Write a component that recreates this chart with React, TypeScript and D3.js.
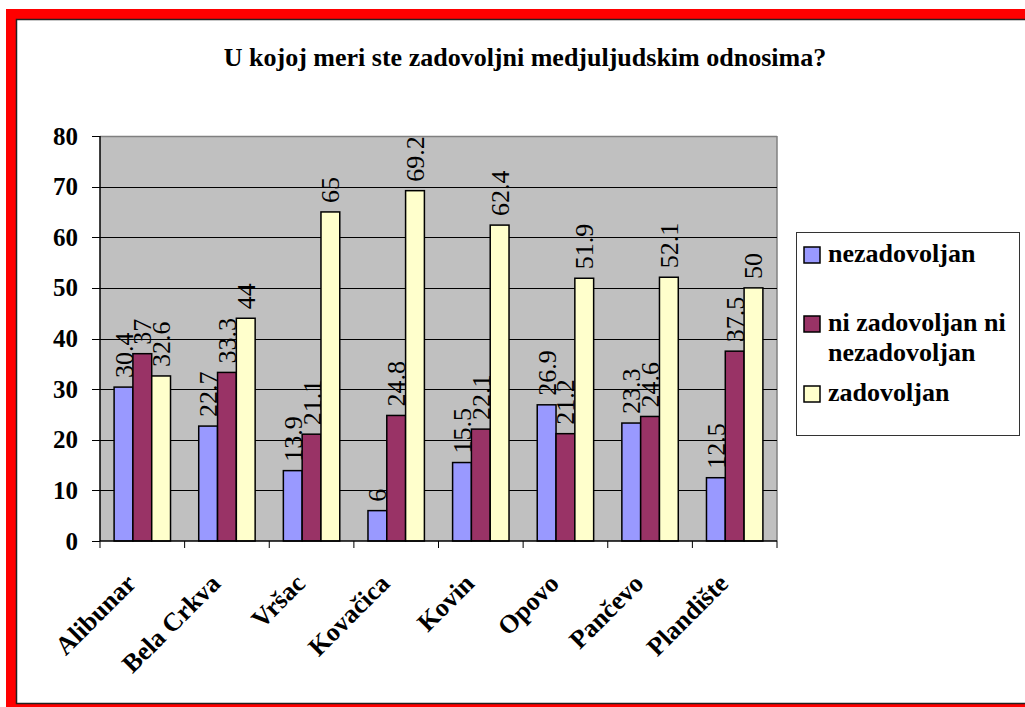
import React from "react";
import * as d3 from "d3";

const title = "U kojoj meri ste zadovoljni medjuljudskim odnosima?";
const categories = ["Alibunar", "Bela Crkva", "Vršac", "Kovačica", "Kovin", "Opovo", "Pančevo", "Plandište"];
const seriesNames = ["nezadovoljan", "ni zadovoljan ni nezadovoljan", "zadovoljan"];
const legendLines = [["nezadovoljan"], ["ni zadovoljan ni", "nezadovoljan"], ["zadovoljan"]];
const nezadovoljan = [30.4, 22.7, 13.9, 6, 15.5, 26.9, 23.3, 12.5];
const niNi = [37, 33.3, 21.1, 24.8, 22.1, 21.2, 24.6, 37.5];
const zadovoljan = [32.6, 44, 65, 69.2, 62.4, 51.9, 52.1, 50];
const seriesValues = [nezadovoljan, niNi, zadovoljan];
const seriesColors = ["#9999FF", "#993366", "#FFFFCC"];
const yTicks = [0, 10, 20, 30, 40, 50, 60, 70, 80];

const W = 1025;
const H = 707;
const plot = { left: 100, right: 777, top: 136, bottom: 541 };
const serif = "Liberation Serif, Times New Roman, serif";

export default function App() {
  const x = d3.scaleBand<string>().domain(categories).range([plot.left, plot.right]);
  const bw = x.bandwidth() / 4.5;
  const y = d3.scaleLinear().domain([0, 80]).range([plot.bottom, plot.top]);

  const legendY = [247, 316, 386];

  return (
    <svg width={W} height={H} style={{ position: "fixed", left: 0, top: 0, display: "block", background: "#fff" }} fontFamily={serif}>
      {/* frame */}
      <path d={`M6,9 H${W} V${H} H6 Z`} fill="#FF0000" />
      <path d={`M16.5,19.5 H${W + 5} V703.5 H16.5 Z`} fill="#ffffff" stroke="#222222" strokeWidth={1.5} />

      {/* title */}
      <text x={525} y={66} textAnchor="middle" fontWeight="bold" fontSize={26} fontFamily={serif}>
        {title}
      </text>

      {/* plot area */}
      <rect x={plot.left} y={plot.top} width={plot.right - plot.left} height={plot.bottom - plot.top} fill="#C0C0C0" />
      <line x1={plot.left} x2={plot.right} y1={plot.top + 0.5} y2={plot.top + 0.5} stroke="#808080" strokeWidth={1.5} />
      <line x1={plot.right} x2={plot.right} y1={plot.top} y2={plot.bottom} stroke="#808080" strokeWidth={1.5} />
      {yTicks.slice(1, -1).map((t) => (
        <line key={t} x1={plot.left} x2={plot.right} y1={Math.round(y(t)) + 0.5} y2={Math.round(y(t)) + 0.5} stroke="#000" strokeWidth={1} />
      ))}

      {/* bars */}
      {categories.map((c, i) => (
        <g key={c}>
          {seriesValues.map((vals, s) => {
            const bx = (x(c) as number) + 0.75 * bw + s * bw;
            const v = vals[i];
            return (
              <g key={s}>
                <rect x={bx} y={y(v)} width={bw} height={plot.bottom - y(v)} fill={seriesColors[s]} stroke="#000" strokeWidth={1.5} />
                <text
                  transform={`translate(${bx + bw / 2 + 9},${y(v) - 9}) rotate(-90)`}
                  fontSize={26}
                  textAnchor="start"
                  fontFamily={serif}
                >
                  {String(v)}
                </text>
              </g>
            );
          })}
        </g>
      ))}

      {/* axes */}
      <line x1={plot.left} x2={plot.left} y1={plot.top} y2={plot.bottom} stroke="#000" strokeWidth={1.5} />
      <line x1={plot.left} x2={plot.right} y1={plot.bottom} y2={plot.bottom} stroke="#000" strokeWidth={1.5} />
      {yTicks.map((t) => (
        <g key={t}>
          <line x1={plot.left - 8} x2={plot.left} y1={Math.round(y(t)) + 0.5} y2={Math.round(y(t)) + 0.5} stroke="#000" strokeWidth={1} />
          <text x={78} y={y(t)} dy="0.34em" textAnchor="end" fontWeight="bold" fontSize={25} fontFamily={serif}>
            {t}
          </text>
        </g>
      ))}
      {categories.concat(["_end"]).map((c, i) => {
        const tx = i < categories.length ? (x(c) as number) : plot.right;
        return <line key={c} x1={tx} x2={tx} y1={plot.bottom} y2={plot.bottom + 7} stroke="#000" strokeWidth={1} />;
      })}
      {categories.map((c) => {
        const cx = (x(c) as number) + x.bandwidth() / 2;
        return (
          <text key={c} transform={`translate(${cx - 5},${585}) rotate(-45)`} textAnchor="end" fontWeight="bold" fontSize={26} fontFamily={serif}>
            {c}
          </text>
        );
      })}

      {/* legend */}
      <rect x={796.5} y={232.5} width={223} height={203} fill="#fff" stroke="#333" strokeWidth={1} />
      {seriesNames.map((n, s) => (
        <g key={n}>
          <rect x={804} y={legendY[s]} width={16} height={16} fill={seriesColors[s]} stroke="#000" strokeWidth={1.5} />
          {legendLines[s].map((line, li) => (
            <text key={li} x={828} y={legendY[s] + 15 + li * 30} fontWeight="bold" fontSize={26} fontFamily={serif}>
              {line}
            </text>
          ))}
        </g>
      ))}
    </svg>
  );
}
